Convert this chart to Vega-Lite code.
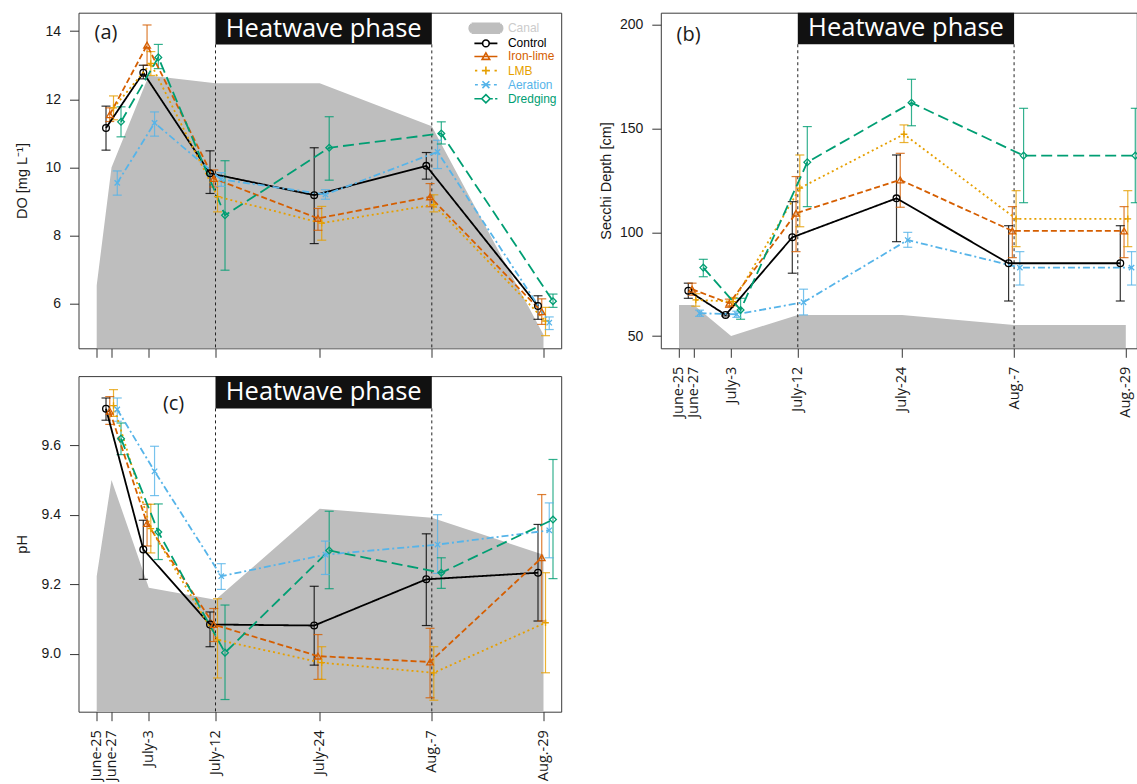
{
  "$schema": "https://vega.github.io/schema/vega-lite/v6.json",
  "background": "white",
  "padding": {"left": 13.5, "top": 11.7, "right": 0, "bottom": 0},
  "columns": 2,
  "spacing": {"row": 27.4, "column": 99.3},
  "bounds": "flush",
  "resolve": {"scale": {"color": "independent", "shape": "independent", "strokeDash": "independent"}},
  "datasets": {
    "pts": [
      {"p":"a","t":"Control","day":2,"m":11.16,"lo":10.51,"hi":11.80},
      {"p":"a","t":"Control","day":8,"m":12.78,"lo":12.60,"hi":13.00},
      {"p":"a","t":"Control","day":17,"m":9.83,"lo":9.24,"hi":10.49},
      {"p":"a","t":"Control","day":29,"m":9.19,"lo":7.77,"hi":10.58},
      {"p":"a","t":"Control","day":43,"m":10.05,"lo":9.66,"hi":10.44},
      {"p":"a","t":"Control","day":65,"m":5.94,"lo":5.55,"hi":6.24},
      {"p":"a","t":"Iron-lime","day":2,"m":11.55,"lo":11.35,"hi":11.75},
      {"p":"a","t":"Iron-lime","day":8,"m":13.59,"lo":13.00,"hi":14.18},
      {"p":"a","t":"Iron-lime","day":17,"m":9.68,"lo":9.43,"hi":9.93},
      {"p":"a","t":"Iron-lime","day":29,"m":8.51,"lo":8.16,"hi":8.80},
      {"p":"a","t":"Iron-lime","day":43,"m":9.14,"lo":8.85,"hi":9.53},
      {"p":"a","t":"Iron-lime","day":65,"m":5.77,"lo":5.40,"hi":6.15},
      {"p":"a","t":"LMB","day":2,"m":11.75,"lo":11.40,"hi":12.10},
      {"p":"a","t":"LMB","day":8,"m":13.05,"lo":12.70,"hi":13.40},
      {"p":"a","t":"LMB","day":17,"m":9.15,"lo":8.70,"hi":9.60},
      {"p":"a","t":"LMB","day":29,"m":8.37,"lo":7.87,"hi":8.86},
      {"p":"a","t":"LMB","day":43,"m":8.91,"lo":8.70,"hi":9.20},
      {"p":"a","t":"LMB","day":65,"m":5.50,"lo":5.07,"hi":5.90},
      {"p":"a","t":"Aeration","day":2,"m":9.55,"lo":9.19,"hi":9.90},
      {"p":"a","t":"Aeration","day":8,"m":11.31,"lo":10.92,"hi":11.63},
      {"p":"a","t":"Aeration","day":17,"m":9.65,"lo":9.45,"hi":9.85},
      {"p":"a","t":"Aeration","day":29,"m":9.21,"lo":9.07,"hi":9.35},
      {"p":"a","t":"Aeration","day":43,"m":10.46,"lo":9.97,"hi":10.80},
      {"p":"a","t":"Aeration","day":65,"m":5.45,"lo":5.25,"hi":5.62},
      {"p":"a","t":"Dredging","day":2,"m":11.34,"lo":10.90,"hi":11.78},
      {"p":"a","t":"Dredging","day":8,"m":13.23,"lo":12.90,"hi":13.61},
      {"p":"a","t":"Dredging","day":17,"m":8.60,"lo":6.99,"hi":10.20},
      {"p":"a","t":"Dredging","day":29,"m":10.58,"lo":9.63,"hi":11.49},
      {"p":"a","t":"Dredging","day":43,"m":11.00,"lo":10.69,"hi":11.34},
      {"p":"a","t":"Dredging","day":65,"m":6.08,"lo":5.90,"hi":6.29},
      {"p":"b","t":"Control","day":2,"m":71.9,"lo":68.2,"hi":75.5},
      {"p":"b","t":"Control","day":8,"m":60.2,"lo":59.7,"hi":60.7},
      {"p":"b","t":"Control","day":17,"m":97.6,"lo":80.3,"hi":114.8},
      {"p":"b","t":"Control","day":29,"m":116.4,"lo":95.5,"hi":137.3},
      {"p":"b","t":"Control","day":43,"m":85.1,"lo":66.9,"hi":103.2},
      {"p":"b","t":"Control","day":65,"m":85.1,"lo":66.9,"hi":103.2},
      {"p":"b","t":"Iron-lime","day":2,"m":72.6,"lo":69.7,"hi":75.5},
      {"p":"b","t":"Iron-lime","day":8,"m":65.8,"lo":63.8,"hi":67.8},
      {"p":"b","t":"Iron-lime","day":17,"m":109.2,"lo":90.7,"hi":126.9},
      {"p":"b","t":"Iron-lime","day":29,"m":125.3,"lo":112.1,"hi":138.1},
      {"p":"b","t":"Iron-lime","day":43,"m":100.7,"lo":87.8,"hi":112.4},
      {"p":"b","t":"Iron-lime","day":65,"m":100.7,"lo":87.8,"hi":112.4},
      {"p":"b","t":"LMB","day":2,"m":67.4,"lo":64.4,"hi":70.4},
      {"p":"b","t":"LMB","day":8,"m":66.6,"lo":64.6,"hi":68.6},
      {"p":"b","t":"LMB","day":17,"m":121.3,"lo":102.7,"hi":137.3},
      {"p":"b","t":"LMB","day":29,"m":147.3,"lo":143.3,"hi":151.8},
      {"p":"b","t":"LMB","day":43,"m":106.5,"lo":93.1,"hi":120.1},
      {"p":"b","t":"LMB","day":65,"m":106.5,"lo":93.1,"hi":120.1},
      {"p":"b","t":"Aeration","day":2,"m":61.0,"lo":59.5,"hi":62.5},
      {"p":"b","t":"Aeration","day":8,"m":60.5,"lo":59.0,"hi":62.0},
      {"p":"b","t":"Aeration","day":17,"m":66.3,"lo":60.2,"hi":72.6},
      {"p":"b","t":"Aeration","day":29,"m":96.3,"lo":92.8,"hi":100.0},
      {"p":"b","t":"Aeration","day":43,"m":83.0,"lo":74.6,"hi":90.7},
      {"p":"b","t":"Aeration","day":65,"m":83.0,"lo":74.6,"hi":90.7},
      {"p":"b","t":"Dredging","day":2,"m":83.0,"lo":78.6,"hi":87.0},
      {"p":"b","t":"Dredging","day":8,"m":62.6,"lo":58.1,"hi":68.2},
      {"p":"b","t":"Dredging","day":17,"m":133.8,"lo":112.4,"hi":151.0},
      {"p":"b","t":"Dredging","day":29,"m":162.5,"lo":151.4,"hi":173.8},
      {"p":"b","t":"Dredging","day":43,"m":137.0,"lo":114.3,"hi":159.8},
      {"p":"b","t":"Dredging","day":65,"m":137.0,"lo":114.3,"hi":159.8},
      {"p":"c","t":"Control","day":2,"m":9.705,"lo":9.672,"hi":9.736},
      {"p":"c","t":"Control","day":8,"m":9.300,"lo":9.214,"hi":9.384},
      {"p":"c","t":"Control","day":17,"m":9.084,"lo":9.020,"hi":9.120},
      {"p":"c","t":"Control","day":29,"m":9.081,"lo":8.967,"hi":9.194},
      {"p":"c","t":"Control","day":43,"m":9.214,"lo":9.081,"hi":9.345},
      {"p":"c","t":"Control","day":65,"m":9.233,"lo":9.094,"hi":9.372},
      {"p":"c","t":"Iron-lime","day":2,"m":9.698,"lo":9.660,"hi":9.740},
      {"p":"c","t":"Iron-lime","day":8,"m":9.375,"lo":9.310,"hi":9.430},
      {"p":"c","t":"Iron-lime","day":17,"m":9.084,"lo":9.035,"hi":9.130},
      {"p":"c","t":"Iron-lime","day":29,"m":8.993,"lo":8.926,"hi":9.055},
      {"p":"c","t":"Iron-lime","day":43,"m":8.976,"lo":8.873,"hi":9.073},
      {"p":"c","t":"Iron-lime","day":65,"m":9.276,"lo":9.094,"hi":9.458},
      {"p":"c","t":"LMB","day":2,"m":9.714,"lo":9.683,"hi":9.760},
      {"p":"c","t":"LMB","day":8,"m":9.360,"lo":9.290,"hi":9.430},
      {"p":"c","t":"LMB","day":17,"m":9.040,"lo":8.930,"hi":9.158},
      {"p":"c","t":"LMB","day":29,"m":8.974,"lo":8.926,"hi":9.020},
      {"p":"c","t":"LMB","day":43,"m":8.945,"lo":8.866,"hi":9.020},
      {"p":"c","t":"LMB","day":65,"m":9.089,"lo":8.945,"hi":9.233},
      {"p":"c","t":"Aeration","day":2,"m":9.703,"lo":9.669,"hi":9.736},
      {"p":"c","t":"Aeration","day":8,"m":9.525,"lo":9.455,"hi":9.597},
      {"p":"c","t":"Aeration","day":17,"m":9.223,"lo":9.185,"hi":9.259},
      {"p":"c","t":"Aeration","day":29,"m":9.285,"lo":9.228,"hi":9.324},
      {"p":"c","t":"Aeration","day":43,"m":9.314,"lo":9.231,"hi":9.400},
      {"p":"c","t":"Aeration","day":65,"m":9.355,"lo":9.276,"hi":9.434},
      {"p":"c","t":"Dredging","day":2,"m":9.619,"lo":9.573,"hi":9.664},
      {"p":"c","t":"Dredging","day":8,"m":9.350,"lo":9.271,"hi":9.431},
      {"p":"c","t":"Dredging","day":17,"m":9.003,"lo":8.868,"hi":9.140},
      {"p":"c","t":"Dredging","day":29,"m":9.297,"lo":9.187,"hi":9.410},
      {"p":"c","t":"Dredging","day":43,"m":9.233,"lo":9.188,"hi":9.276},
      {"p":"c","t":"Dredging","day":65,"m":9.386,"lo":9.216,"hi":9.559}
    ],
    "canal": [
      {"p":"a","day":0,"v":6.55},{"p":"a","day":2,"v":10.0},{"p":"a","day":8,"v":12.7},{"p":"a","day":17,"v":12.47},{"p":"a","day":29,"v":12.47},{"p":"a","day":43,"v":11.21},{"p":"a","day":65,"v":5.1},
      {"p":"b","day":0,"v":65},{"p":"b","day":2,"v":65},{"p":"b","day":8,"v":50},{"p":"b","day":17,"v":60.2},{"p":"b","day":29,"v":60.2},{"p":"b","day":43,"v":55.3},{"p":"b","day":65,"v":55.3},
      {"p":"c","day":0,"v":9.223},{"p":"c","day":2,"v":9.5},{"p":"c","day":8,"v":9.19},{"p":"c","day":17,"v":9.155},{"p":"c","day":29,"v":9.417},{"p":"c","day":43,"v":9.391},{"p":"c","day":65,"v":9.285}
    ],
    "legend": [
      {"t":"Canal"},{"t":"Control"},{"t":"Iron-lime"},{"t":"LMB"},{"t":"Aeration"},{"t":"Dredging"}
    ]
  },
  "concat": [
    {
      "width": 482.7, "height": 335.6,
      "data": {"name": "pts"},
      "transform": [{"filter": "datum.p == 'a'"}],
      "resolve": {"scale": {"shape": "independent", "color": "independent"}},
      "layer": [
        {
          "data": {"name": "canal"},
          "transform": [{"filter": "datum.p == 'a'"}],
          "mark": {"type": "area", "color": "#bebebe", "clip": true},
          "encoding": {
            "x": {"field": "day", "type": "quantitative", "scale": {"domain": [-2.5,0,2,8,17,29,43,65,67.4], "range": [0,18.2,33,70.3,137,241.2,353.3,465,482.7], "zero": false, "nice": false}, "axis": {"values": [0,2,8,17,29,43,65], "labels": false, "title": null}},
            "y": {"field": "v", "type": "quantitative", "scale": {"domain": [4.7, 14.54], "zero": false, "nice": false}, "axis": {"values": [6,8,10,12,14], "title": "DO [mg L\u207b\u00b9]", "titlePadding": 15.7}},
            "y2": {"datum": 0}
          }
        },
        {
          "data": {"values": [{"day": 17}, {"day": 43}]},
          "mark": {"type": "rule", "strokeDash": [3,3], "color": "#222222", "strokeWidth": 1},
          "encoding": {"x": {"field": "day", "type": "quantitative"}, "y": {"datum": 13.61}, "y2": {"datum": 4.7}}
        },
        {
          "mark": {"type": "rule", "strokeWidth": 1.2, "opacity": 0.8, "xOffset": {"expr": "indexof(['Control','Iron-lime','LMB','Aeration','Dredging'], datum.t) * 3.75 - 5.5"}},
          "encoding": {
            "x": {"field": "day", "type": "quantitative"},
            "y": {"field": "lo", "type": "quantitative"}, "y2": {"field": "hi"},
            "color": {"field": "t", "type": "nominal", "scale": {"domain": ["Control","Iron-lime","LMB","Aeration","Dredging"], "range": ["#000000","#D55E00","#E69F00","#56B4E9","#009E73"]}, "legend": null}
          }
        },
        {
          "mark": {"type": "point", "shape": "M-1,0L1,0", "size": 81, "filled": false, "strokeWidth": 1.2, "opacity": 0.8, "xOffset": {"expr": "indexof(['Control','Iron-lime','LMB','Aeration','Dredging'], datum.t) * 3.75 - 5.5"}},
          "encoding": {
            "x": {"field": "day", "type": "quantitative"},
            "y": {"field": "lo", "type": "quantitative"},
            "color": {"field": "t", "type": "nominal", "scale": {"domain": ["Control","Iron-lime","LMB","Aeration","Dredging"], "range": ["#000000","#D55E00","#E69F00","#56B4E9","#009E73"]}, "legend": null}
          }
        },
        {
          "mark": {"type": "point", "shape": "M-1,0L1,0", "size": 81, "filled": false, "strokeWidth": 1.2, "opacity": 0.8, "xOffset": {"expr": "indexof(['Control','Iron-lime','LMB','Aeration','Dredging'], datum.t) * 3.75 - 5.5"}},
          "encoding": {
            "x": {"field": "day", "type": "quantitative"},
            "y": {"field": "hi", "type": "quantitative"},
            "color": {"field": "t", "type": "nominal", "scale": {"domain": ["Control","Iron-lime","LMB","Aeration","Dredging"], "range": ["#000000","#D55E00","#E69F00","#56B4E9","#009E73"]}, "legend": null}
          }
        },
        {
          "mark": {"type": "line", "strokeWidth": 1.8, "xOffset": {"expr": "indexof(['Control','Iron-lime','LMB','Aeration','Dredging'], datum.t) * 3.75 - 5.5"}},
          "encoding": {
            "x": {"field": "day", "type": "quantitative"},
            "y": {"field": "m", "type": "quantitative"},
            "color": {"field": "t", "type": "nominal", "scale": {"domain": ["Control","Iron-lime","LMB","Aeration","Dredging"], "range": ["#000000","#D55E00","#E69F00","#56B4E9","#009E73"]}, "legend": null},
            "strokeDash": {"field": "t", "type": "nominal", "scale": {"domain": ["Control","Iron-lime","LMB","Aeration","Dredging"], "range": [[1,0],[6,3],[2,3],[7,3,2,3],[11,5]]}, "legend": null}
          }
        },
        {
          "mark": {"type": "point", "filled": false, "size": 45, "strokeWidth": 1.3, "opacity": 1, "xOffset": {"expr": "indexof(['Control','Iron-lime','LMB','Aeration','Dredging'], datum.t) * 3.75 - 5.5"}},
          "encoding": {
            "x": {"field": "day", "type": "quantitative"},
            "y": {"field": "m", "type": "quantitative"},
            "color": {"field": "t", "type": "nominal", "scale": {"domain": ["Control","Iron-lime","LMB","Aeration","Dredging"], "range": ["#000000","#D55E00","#E69F00","#56B4E9","#009E73"]}, "legend": null},
            "shape": {"field": "t", "type": "nominal", "scale": {"domain": ["Control","Iron-lime","LMB","Aeration","Dredging"], "range": ["circle","triangle-up","M-1,0L1,0M0,-1L0,1","M-0.8,-0.8L0.8,0.8M-0.8,0.8L0.8,-0.8","diamond"]}, "legend": null}
          }
        },
        {
          "data": {"values": [{"label": "Heatwave phase"}]},
          "mark": {"type": "rect", "color": "#111111"},
          "encoding": {"x": {"datum": 17}, "x2": {"datum": 43}, "y": {"datum": 13.61}, "y2": {"datum": 14.54}}
        },
        {
          "data": {"values": [{"label": "Heatwave phase"}]},
          "mark": {"type": "text", "color": "white", "font": "Open Sans", "fontSize": 25.5, "align": "center", "baseline": "middle"},
          "encoding": {"x": {"datum": 29.5}, "y": {"datum": 14.073}, "text": {"field": "label"}}
        },
        {
          "data": {"values": [{"label": "(a)"}]},
          "mark": {"type": "text", "color": "#1a1a1a", "font": "Open Sans", "fontSize": 20, "align": "left", "baseline": "middle"},
          "encoding": {"x": {"datum": -0.3}, "y": {"datum": 13.94}, "text": {"field": "label"}}
        },
        {
          "data": {"name": "legend"},
          "mark": {"type": "point", "filled": false, "opacity": 0, "size": 100, "strokeWidth": 1.6},
          "encoding": {
            "color": {"field": "t", "type": "nominal", "scale": {"domain": ["Canal","Control","Iron-lime","LMB","Aeration","Dredging"], "range": ["#BEBEBE","#000000","#D55E00","#E69F00","#56B4E9","#009E73"]},
              "legend": {"orient": "none", "legendX": 401.4, "legendY": 9.6, "title": null, "symbolSize": 100, "symbolStrokeWidth": 1.6, "symbolOpacity": 1, "labelFont": "Liberation Sans", "labelFontSize": 12, "labelOffset": 16, "rowPadding": -0.9, "padding": 0,
                "labelColor": {"expr": "datum.label == 'Canal' ? '#cccccc' : datum.label == 'Control' ? '#000000' : datum.label == 'Iron-lime' ? '#D55E00' : datum.label == 'LMB' ? '#E69F00' : datum.label == 'Aeration' ? '#56B4E9' : '#009E73'"}}},
            "shape": {"field": "t", "type": "nominal", "scale": {"domain": ["Canal","Control","Iron-lime","LMB","Aeration","Dredging"], "range": [
                "M-2.858,-1L2.858,-1M-3.205,-0.75L3.205,-0.75M-3.38,-0.5L3.38,-0.5M-3.471,-0.25L3.471,-0.25M-3.5,0L3.5,0M-3.471,0.25L3.471,0.25M-3.38,0.5L3.38,0.5M-3.205,0.75L3.205,0.75M-2.858,1L2.858,1",
                "M-2.3,0L-0.667,0M0.667,0L2.3,0M-0.667,0A0.667,0.667 0 1,0 0.667,0A0.667,0.667 0 1,0 -0.667,0",
                "M-2.3,0L2.3,0M0,-0.736L0.759,0.575L-0.759,0.575Z",
                "M-2.185,0L-1.725,0M1.725,0L2.185,0M-0.805,0L0.805,0M0,-0.805L0,0.805",
                "M-2.185,0L-1.61,0M1.61,0L2.185,0M-0.69,-0.69L0.69,0.69M-0.69,0.69L0.69,-0.69M-0.92,0L0.92,0",
                "M-2.3,0L-0.828,0M0.828,0L1.38,0M1.84,0L2.3,0M0,-0.828L0.828,0L0,0.828L-0.828,0Z"
              ]},
              "legend": {"orient": "none", "legendX": 401.4, "legendY": 9.6, "title": null, "symbolSize": 100, "symbolStrokeWidth": 1.6, "symbolOpacity": 1, "labelFont": "Liberation Sans", "labelFontSize": 12, "labelOffset": 16, "rowPadding": -0.9, "padding": 0,
                "labelColor": {"expr": "datum.label == 'Canal' ? '#cccccc' : datum.label == 'Control' ? '#000000' : datum.label == 'Iron-lime' ? '#D55E00' : datum.label == 'LMB' ? '#E69F00' : datum.label == 'Aeration' ? '#56B4E9' : '#009E73'"}}}
          }
        }
      ]
    },
    {
      "width": 476, "height": 335.6,
      "data": {"name": "pts"},
      "transform": [{"filter": "datum.p == 'b'"}],
      "layer": [
        {
          "data": {"name": "canal"},
          "transform": [{"filter": "datum.p == 'b'"}],
          "mark": {"type": "area", "color": "#bebebe", "clip": true},
          "encoding": {
            "x": {"field": "day", "type": "quantitative", "scale": {"domain": [-2.5,0,2,8,17,29,43,65,67.4], "range": [0,18.2,33,70.3,137,241.2,353.3,465,482.7], "zero": false, "nice": false},
              "axis": {"values": [0,2,8,17,29,43,65], "title": null, "labelAngle": -90, "labelAlign": "right", "labelBaseline": "middle", "labelPadding": 9, "labelOverlap": false, "labelFlush": false, "labelFont": "Open Sans", "labelFontSize": 14.5,
                "labelExpr": "datum.value == 0 ? 'June-25' : datum.value == 2 ? 'June-27' : datum.value == 8 ? 'July-3' : datum.value == 17 ? 'July-12' : datum.value == 29 ? 'July-24' : datum.value == 43 ? 'Aug.-7' : 'Aug.-29'"}},
            "y": {"field": "v", "type": "quantitative", "scale": {"domain": [44.1, 205.9], "zero": false, "nice": false}, "axis": {"values": [50,100,150,200], "title": "Secchi Depth [cm]", "titlePadding": 5.6}},
            "y2": {"datum": 0}
          }
        },
        {
          "data": {"values": [{"day": 17}, {"day": 43}]},
          "mark": {"type": "rule", "strokeDash": [3,3], "color": "#222222", "strokeWidth": 1},
          "encoding": {"x": {"field": "day", "type": "quantitative"}, "y": {"datum": 190.7}, "y2": {"datum": 44.1}}
        },
        {
          "mark": {"type": "rule", "strokeWidth": 1.2, "opacity": 0.8, "xOffset": {"expr": "indexof(['Control','Iron-lime','LMB','Aeration','Dredging'], datum.t) * 3.75 - 5.5"}},
          "encoding": {
            "x": {"field": "day", "type": "quantitative"},
            "y": {"field": "lo", "type": "quantitative"}, "y2": {"field": "hi"},
            "color": {"field": "t", "type": "nominal", "scale": {"domain": ["Control","Iron-lime","LMB","Aeration","Dredging"], "range": ["#000000","#D55E00","#E69F00","#56B4E9","#009E73"]}, "legend": null}
          }
        },
        {
          "mark": {"type": "point", "shape": "M-1,0L1,0", "size": 81, "filled": false, "strokeWidth": 1.2, "opacity": 0.8, "xOffset": {"expr": "indexof(['Control','Iron-lime','LMB','Aeration','Dredging'], datum.t) * 3.75 - 5.5"}},
          "encoding": {
            "x": {"field": "day", "type": "quantitative"},
            "y": {"field": "lo", "type": "quantitative"},
            "color": {"field": "t", "type": "nominal", "scale": {"domain": ["Control","Iron-lime","LMB","Aeration","Dredging"], "range": ["#000000","#D55E00","#E69F00","#56B4E9","#009E73"]}, "legend": null}
          }
        },
        {
          "mark": {"type": "point", "shape": "M-1,0L1,0", "size": 81, "filled": false, "strokeWidth": 1.2, "opacity": 0.8, "xOffset": {"expr": "indexof(['Control','Iron-lime','LMB','Aeration','Dredging'], datum.t) * 3.75 - 5.5"}},
          "encoding": {
            "x": {"field": "day", "type": "quantitative"},
            "y": {"field": "hi", "type": "quantitative"},
            "color": {"field": "t", "type": "nominal", "scale": {"domain": ["Control","Iron-lime","LMB","Aeration","Dredging"], "range": ["#000000","#D55E00","#E69F00","#56B4E9","#009E73"]}, "legend": null}
          }
        },
        {
          "mark": {"type": "line", "strokeWidth": 1.8, "xOffset": {"expr": "indexof(['Control','Iron-lime','LMB','Aeration','Dredging'], datum.t) * 3.75 - 5.5"}},
          "encoding": {
            "x": {"field": "day", "type": "quantitative"},
            "y": {"field": "m", "type": "quantitative"},
            "color": {"field": "t", "type": "nominal", "scale": {"domain": ["Control","Iron-lime","LMB","Aeration","Dredging"], "range": ["#000000","#D55E00","#E69F00","#56B4E9","#009E73"]}, "legend": null},
            "strokeDash": {"field": "t", "type": "nominal", "scale": {"domain": ["Control","Iron-lime","LMB","Aeration","Dredging"], "range": [[1,0],[6,3],[2,3],[7,3,2,3],[11,5]]}, "legend": null}
          }
        },
        {
          "mark": {"type": "point", "filled": false, "size": 45, "strokeWidth": 1.3, "opacity": 1, "xOffset": {"expr": "indexof(['Control','Iron-lime','LMB','Aeration','Dredging'], datum.t) * 3.75 - 5.5"}},
          "encoding": {
            "x": {"field": "day", "type": "quantitative"},
            "y": {"field": "m", "type": "quantitative"},
            "color": {"field": "t", "type": "nominal", "scale": {"domain": ["Control","Iron-lime","LMB","Aeration","Dredging"], "range": ["#000000","#D55E00","#E69F00","#56B4E9","#009E73"]}, "legend": null},
            "shape": {"field": "t", "type": "nominal", "scale": {"domain": ["Control","Iron-lime","LMB","Aeration","Dredging"], "range": ["circle","triangle-up","M-1,0L1,0M0,-1L0,1","M-0.8,-0.8L0.8,0.8M-0.8,0.8L0.8,-0.8","diamond"]}, "legend": null}
          }
        },
        {
          "data": {"values": [{"label": "Heatwave phase"}]},
          "mark": {"type": "rect", "color": "#111111"},
          "encoding": {"x": {"datum": 17}, "x2": {"datum": 43}, "y": {"datum": 190.7}, "y2": {"datum": 205.9}}
        },
        {
          "data": {"values": [{"label": "Heatwave phase"}]},
          "mark": {"type": "text", "color": "white", "font": "Open Sans", "fontSize": 25.5, "align": "center", "baseline": "middle"},
          "encoding": {"x": {"datum": 29.5}, "y": {"datum": 198.3}, "text": {"field": "label"}}
        },
        {
          "data": {"values": [{"label": "(b)"}]},
          "mark": {"type": "text", "color": "#1a1a1a", "font": "Open Sans", "fontSize": 20, "align": "left", "baseline": "middle"},
          "encoding": {"x": {"datum": -0.34}, "y": {"datum": 195.2}, "text": {"field": "label"}}
        }
      ]
    },
    {
      "width": 482.7, "height": 335.6,
      "data": {"name": "pts"},
      "transform": [{"filter": "datum.p == 'c'"}],
      "layer": [
        {
          "data": {"name": "canal"},
          "transform": [{"filter": "datum.p == 'c'"}],
          "mark": {"type": "area", "color": "#bebebe", "clip": true},
          "encoding": {
            "x": {"field": "day", "type": "quantitative", "scale": {"domain": [-2.5,0,2,8,17,29,43,65,67.4], "range": [0,18.2,33,70.3,137,241.2,353.3,465,482.7], "zero": false, "nice": false},
              "axis": {"values": [0,2,8,17,29,43,65], "title": null, "labelAngle": -90, "labelAlign": "right", "labelBaseline": "middle", "labelPadding": 9, "labelOverlap": false, "labelFlush": false, "labelFont": "Open Sans", "labelFontSize": 14.5,
                "labelExpr": "datum.value == 0 ? 'June-25' : datum.value == 2 ? 'June-27' : datum.value == 8 ? 'July-3' : datum.value == 17 ? 'July-12' : datum.value == 29 ? 'July-24' : datum.value == 43 ? 'Aug.-7' : 'Aug.-29'"}},
            "y": {"field": "v", "type": "quantitative", "scale": {"domain": [8.833, 9.799], "zero": false, "nice": false}, "axis": {"values": [9.0,9.2,9.4,9.6], "format": ".1f", "title": "pH", "titlePadding": 11.8}},
            "y2": {"datum": 0}
          }
        },
        {
          "data": {"values": [{"day": 17}, {"day": 43}]},
          "mark": {"type": "rule", "strokeDash": [3,3], "color": "#222222", "strokeWidth": 1},
          "encoding": {"x": {"field": "day", "type": "quantitative"}, "y": {"datum": 9.706}, "y2": {"datum": 8.833}}
        },
        {
          "mark": {"type": "rule", "strokeWidth": 1.2, "opacity": 0.8, "xOffset": {"expr": "indexof(['Control','Iron-lime','LMB','Aeration','Dredging'], datum.t) * 3.75 - 5.5"}},
          "encoding": {
            "x": {"field": "day", "type": "quantitative"},
            "y": {"field": "lo", "type": "quantitative"}, "y2": {"field": "hi"},
            "color": {"field": "t", "type": "nominal", "scale": {"domain": ["Control","Iron-lime","LMB","Aeration","Dredging"], "range": ["#000000","#D55E00","#E69F00","#56B4E9","#009E73"]}, "legend": null}
          }
        },
        {
          "mark": {"type": "point", "shape": "M-1,0L1,0", "size": 81, "filled": false, "strokeWidth": 1.2, "opacity": 0.8, "xOffset": {"expr": "indexof(['Control','Iron-lime','LMB','Aeration','Dredging'], datum.t) * 3.75 - 5.5"}},
          "encoding": {
            "x": {"field": "day", "type": "quantitative"},
            "y": {"field": "lo", "type": "quantitative"},
            "color": {"field": "t", "type": "nominal", "scale": {"domain": ["Control","Iron-lime","LMB","Aeration","Dredging"], "range": ["#000000","#D55E00","#E69F00","#56B4E9","#009E73"]}, "legend": null}
          }
        },
        {
          "mark": {"type": "point", "shape": "M-1,0L1,0", "size": 81, "filled": false, "strokeWidth": 1.2, "opacity": 0.8, "xOffset": {"expr": "indexof(['Control','Iron-lime','LMB','Aeration','Dredging'], datum.t) * 3.75 - 5.5"}},
          "encoding": {
            "x": {"field": "day", "type": "quantitative"},
            "y": {"field": "hi", "type": "quantitative"},
            "color": {"field": "t", "type": "nominal", "scale": {"domain": ["Control","Iron-lime","LMB","Aeration","Dredging"], "range": ["#000000","#D55E00","#E69F00","#56B4E9","#009E73"]}, "legend": null}
          }
        },
        {
          "mark": {"type": "line", "strokeWidth": 1.8, "xOffset": {"expr": "indexof(['Control','Iron-lime','LMB','Aeration','Dredging'], datum.t) * 3.75 - 5.5"}},
          "encoding": {
            "x": {"field": "day", "type": "quantitative"},
            "y": {"field": "m", "type": "quantitative"},
            "color": {"field": "t", "type": "nominal", "scale": {"domain": ["Control","Iron-lime","LMB","Aeration","Dredging"], "range": ["#000000","#D55E00","#E69F00","#56B4E9","#009E73"]}, "legend": null},
            "strokeDash": {"field": "t", "type": "nominal", "scale": {"domain": ["Control","Iron-lime","LMB","Aeration","Dredging"], "range": [[1,0],[6,3],[2,3],[7,3,2,3],[11,5]]}, "legend": null}
          }
        },
        {
          "mark": {"type": "point", "filled": false, "size": 45, "strokeWidth": 1.3, "opacity": 1, "xOffset": {"expr": "indexof(['Control','Iron-lime','LMB','Aeration','Dredging'], datum.t) * 3.75 - 5.5"}},
          "encoding": {
            "x": {"field": "day", "type": "quantitative"},
            "y": {"field": "m", "type": "quantitative"},
            "color": {"field": "t", "type": "nominal", "scale": {"domain": ["Control","Iron-lime","LMB","Aeration","Dredging"], "range": ["#000000","#D55E00","#E69F00","#56B4E9","#009E73"]}, "legend": null},
            "shape": {"field": "t", "type": "nominal", "scale": {"domain": ["Control","Iron-lime","LMB","Aeration","Dredging"], "range": ["circle","triangle-up","M-1,0L1,0M0,-1L0,1","M-0.8,-0.8L0.8,0.8M-0.8,0.8L0.8,-0.8","diamond"]}, "legend": null}
          }
        },
        {
          "data": {"values": [{"label": "Heatwave phase"}]},
          "mark": {"type": "rect", "color": "#111111"},
          "encoding": {"x": {"datum": 17}, "x2": {"datum": 43}, "y": {"datum": 9.706}, "y2": {"datum": 9.799}}
        },
        {
          "data": {"values": [{"label": "Heatwave phase"}]},
          "mark": {"type": "text", "color": "white", "font": "Open Sans", "fontSize": 25.5, "align": "center", "baseline": "middle"},
          "encoding": {"x": {"datum": 29.5}, "y": {"datum": 9.752}, "text": {"field": "label"}}
        },
        {
          "data": {"values": [{"label": "(c)"}]},
          "mark": {"type": "text", "color": "#1a1a1a", "font": "Open Sans", "fontSize": 20, "align": "left", "baseline": "middle"},
          "encoding": {"x": {"datum": 9.9}, "y": {"datum": 9.72}, "text": {"field": "label"}}
        }
      ]
    }
  ],
  "config": {
    "view": {"stroke": "#3a3a3a", "strokeWidth": 1},
    "axis": {"grid": false, "domain": false, "tickColor": "#333333", "tickWidth": 1, "tickSize": 9, "labelFont": "Liberation Sans", "labelFontSize": 14, "labelColor": "#1a1a1a", "labelPadding": 9, "titleFont": "Liberation Sans", "titleFontSize": 14.5, "titleFontWeight": "normal", "titleColor": "#1a1a1a"}
  }
}
